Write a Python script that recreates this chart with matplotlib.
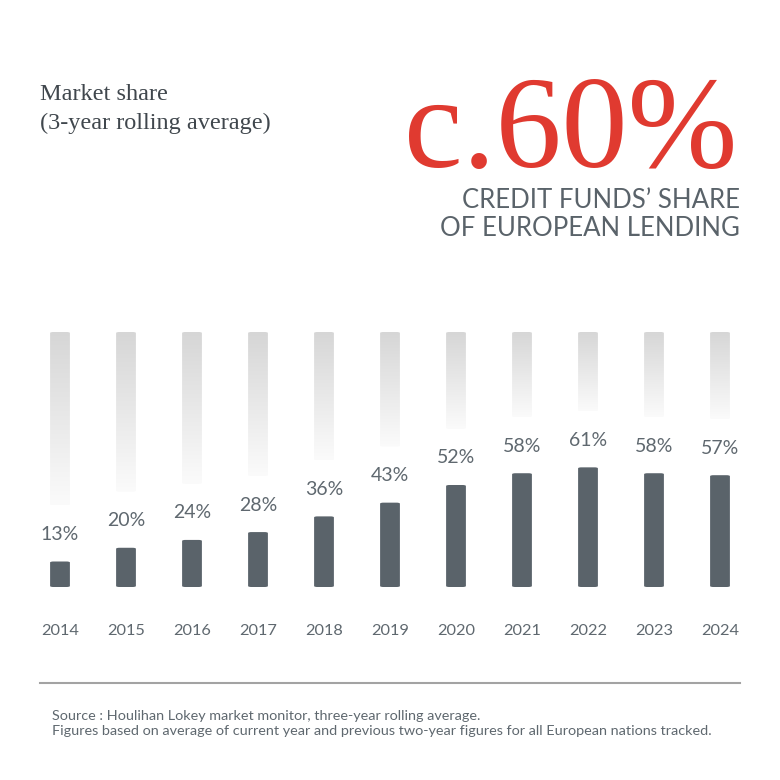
import numpy as np
import matplotlib
matplotlib.use('Agg')
from matplotlib import pyplot as plt
from matplotlib.patches import FancyBboxPatch

years = ['2014', '2015', '2016', '2017', '2018', '2019', '2020', '2021', '2022', '2023', '2024']
share = [13, 20, 24, 28, 36, 43, 52, 58, 61, 58, 57]
labels = ['13%', '20%', '24%', '28%', '36%', '43%', '52%', '58%', '61%', '58%', '57%']

DARK = '#5a636a'
RED = '#e03a30'
TXT = '#5f686f'
W, H = 780, 780

fig = plt.figure(figsize=(W / 100, H / 100), dpi=100)
fig.patch.set_facecolor('white')

ax = fig.add_axes([27 / W, 193 / H, 726 / W, 255 / H])
ax.set_xlim(-0.5, 10.5)
ax.set_ylim(0, 130)
ax.axis('off')

bw = 0.30
gap = 28.6
grad = np.linspace(0, 1, 256).reshape(-1, 1)
cm = matplotlib.colors.LinearSegmentedColormap.from_list('g', ['#fbfbfb', '#d6d6d6'])
for i, v in enumerate(share):
    # fading background bar
    lo = v + gap
    ghost = FancyBboxPatch((i - bw / 2, lo), bw, 130 - lo,
                           boxstyle='round,pad=0,rounding_size=0.05',
                           mutation_aspect=10, fc='none', ec='none')
    ax.add_patch(ghost)
    im = ax.imshow(grad, cmap=cm, origin='lower', aspect='auto',
                   extent=(i - bw / 2, i + bw / 2, lo, 130), zorder=1)
    im.set_clip_path(ghost)
    bar = FancyBboxPatch((i - bw / 2, 0), bw, v,
                         boxstyle='round,pad=0,rounding_size=0.05',
                         mutation_aspect=10, fc=DARK, ec='none', zorder=2)
    ax.add_patch(bar)
    ax.text(i, v + 13.8, labels[i], ha='center', va='center', fontsize=14,
            color=TXT, family='Lato')
    ax.text(i, -22.5, years[i], ha='center', va='center', fontsize=11.8,
            color=TXT, family='Lato')

fig.text(40 / W, 1 - 95 / H, 'Market share', fontsize=17.5, color='#40474d',
         family='Liberation Serif', va='center', ha='left')
fig.text(40 / W, 1 - 123 / H, '(3-year rolling average)', fontsize=17.5,
         color='#40474d', family='Liberation Serif', va='center', ha='left')

fig.text(737 / W, 1 - 167 / H, 'c.60%', fontsize=95, color=RED,
         family='Liberation Serif', va='baseline', ha='right')
fig.text(740 / W, 1 - 200 / H, 'CREDIT FUNDS\u2019 SHARE', fontsize=18.5,
         color=DARK, family='Lato', va='center', ha='right')
fig.text(740 / W, 1 - 228 / H, 'OF EUROPEAN LENDING', fontsize=18.5,
         color=DARK, family='Lato', va='center', ha='right')

fig.add_artist(plt.Line2D([40 / W, 740 / W], [1 - 683 / H, 1 - 683 / H],
                          color='#a3a3a3', lw=1.5))
fig.text(52 / W, 1 - 716 / H,
         'Source : Houlihan Lokey market monitor, three-year rolling average.',
         fontsize=10.4, color=TXT, family='Lato', va='center')
fig.text(52 / W, 1 - 731 / H,
         'Figures based on average of current year and previous two-year figures '
         'for all European nations tracked.',
         fontsize=10.4, color=TXT, family='Lato', va='center')

fig.savefig('out.png', dpi=100, facecolor='white')
